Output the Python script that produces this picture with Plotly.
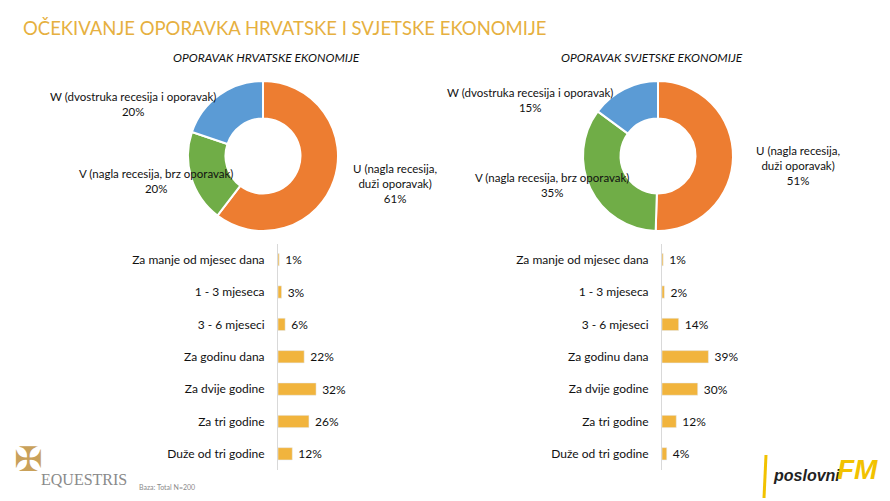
import plotly.graph_objects as go

W, H = 890, 501

# donut data
tipovi = ["U (nagla recesija, duži oporavak)", "V (nagla recesija, brz oporavak)", "W (dvostruka recesija i oporavak)"]
hr_udio = [61, 20, 20]
svijet_udio = [51, 35, 15]

# bar data
razdoblja = ["Za manje od mjesec dana", "1 - 3 mjeseca", "3 - 6 mjeseci", "Za godinu dana",
             "Za dvije godine", "Za tri godine", "Duže od tri godine"]
hr_vrijeme = [1, 3, 6, 22, 32, 26, 12]
svijet_vrijeme = [1, 2, 14, 39, 30, 12, 4]

boje = ["#ED7D31", "#70AD47", "#5B9BD5"]
zuta = "#F1B43D"
tekst = "#111111"
font = "Lato, 'Open Sans', sans-serif"

def px(x0, x1, y0, y1):
    # pixel box -> paper domain
    return dict(x=[x0 / W, x1 / W], y=[1 - y1 / H, 1 - y0 / H])

fig = go.Figure()

for vals, box in [(hr_udio, px(188, 338, 81, 231)), (svijet_udio, px(583, 733, 81, 231))]:
    fig.add_trace(go.Pie(
        labels=tipovi, values=vals, hole=0.5, sort=False, direction="clockwise",
        rotation=0, textinfo="none", hoverinfo="label+percent",
        marker=dict(colors=boje, line=dict(color="white", width=2)),
        domain=box, showlegend=False,
    ))

# bars: 1% ~ 1.19 px
skala = 1.19
for vals, xa, ya in [(hr_vrijeme, "x", "y"), (svijet_vrijeme, "x2", "y2")]:
    fig.add_trace(go.Bar(
        x=vals, y=razdoblja, orientation="h", width=0.38,
        marker_color=zuta, texttemplate="\u00a0%{x}%",
        textposition="outside", cliponaxis=False, constraintext="none",
        textfont=dict(size=12, color=tekst, family=font),
        xaxis=xa, yaxis=ya, showlegend=False,
    ))

ydom = [1 - 470 / H, 1 - 243.5 / H]
os_y = dict(domain=ydom, type="category", categoryorder="array", categoryarray=razdoblja,
            range=[6.5, -0.5], showline=True, linecolor="#d9d9d9", linewidth=1,
            showgrid=False, zeroline=False, ticks="", ticklabelstandoff=10,
            tickfont=dict(size=12, color=tekst, family=font), fixedrange=True)
lx0, lx1 = 278, 440
rx0, rx1 = 662, 840
fig.update_layout(
    width=W, height=H, margin=dict(l=0, r=0, t=0, b=0),
    paper_bgcolor="white", plot_bgcolor="white",
    font=dict(family=font, color=tekst),
    xaxis=dict(domain=[lx0 / W, lx1 / W], range=[0, (lx1 - lx0) / skala], visible=False),
    xaxis2=dict(domain=[rx0 / W, rx1 / W], range=[0, (rx1 - rx0) / skala], visible=False),
    yaxis=dict(os_y, anchor="x"),
    yaxis2=dict(os_y, anchor="x2"),
)

def tekst_ann(x, y, t, size=12, color=tekst, family=font, xanchor="center", **kw):
    fig.add_annotation(x=x / W, y=1 - y / H, xref="paper", yref="paper", text=t,
                       showarrow=False, xanchor=xanchor, yanchor="middle",
                       font=dict(size=size, color=color, family=family), **kw)

tekst_ann(21, 28, "OČEKIVANJE OPORAVKA HRVATSKE I SVJETSKE EKONOMIJE", size=18.5,
          color="#E6B040", xanchor="left")
tekst_ann(266, 58, "<i>OPORAVAK HRVATSKE EKONOMIJE</i>", size=12)
tekst_ann(652, 58, "<i>OPORAVAK SVJETSKE EKONOMIJE</i>", size=12)

# donut labels
def oznaka(x, y, naziv, v):
    tekst_ann(x, y, naziv + "<br>" + str(v) + "%", size=11.5, align="center")

oznaka(133, 104, "W (dvostruka recesija i oporavak)", hr_udio[2])
oznaka(156, 181, "V (nagla recesija, brz oporavak)", hr_udio[1])
oznaka(395, 183, "U (nagla recesija,<br>duži oporavak)", hr_udio[0])
oznaka(530, 100, "W (dvostruka recesija i oporavak)", svijet_udio[2])
oznaka(552, 185, "V (nagla recesija, brz oporavak)", svijet_udio[1])
oznaka(798, 165, "U (nagla recesija,<br>duži oporavak)", svijet_udio[0])

# logos / footer
tekst_ann(28, 459, "✠", size=34, color="#C9A15A", family="DejaVu Sans")
tekst_ann(84, 479, "EQUESTRIS", size=16, color="#8a8a8a", family="Liberation Serif")
tekst_ann(137, 487, "Baza: Total N=200", size=7, color="#8a8a8a", xanchor="left")
fig.add_shape(type="line", xref="paper", yref="paper", x0=766 / W, x1=764 / W,
              y0=1 - 455 / H, y1=1 - 498 / H, line=dict(color="#F2C200", width=3))
tekst_ann(771, 475, "<b><i>poslovni</i></b>", size=16, color="#222222",
          family="Liberation Sans", xanchor="left")
tekst_ann(835, 469, "<b><i>FM</i></b>", size=28, color="#F2C200",
          family="Liberation Sans", xanchor="left")

fig.write_html("out.html", config={"displayModeBar": False},
               post_script="document.body.style.margin='0';")
